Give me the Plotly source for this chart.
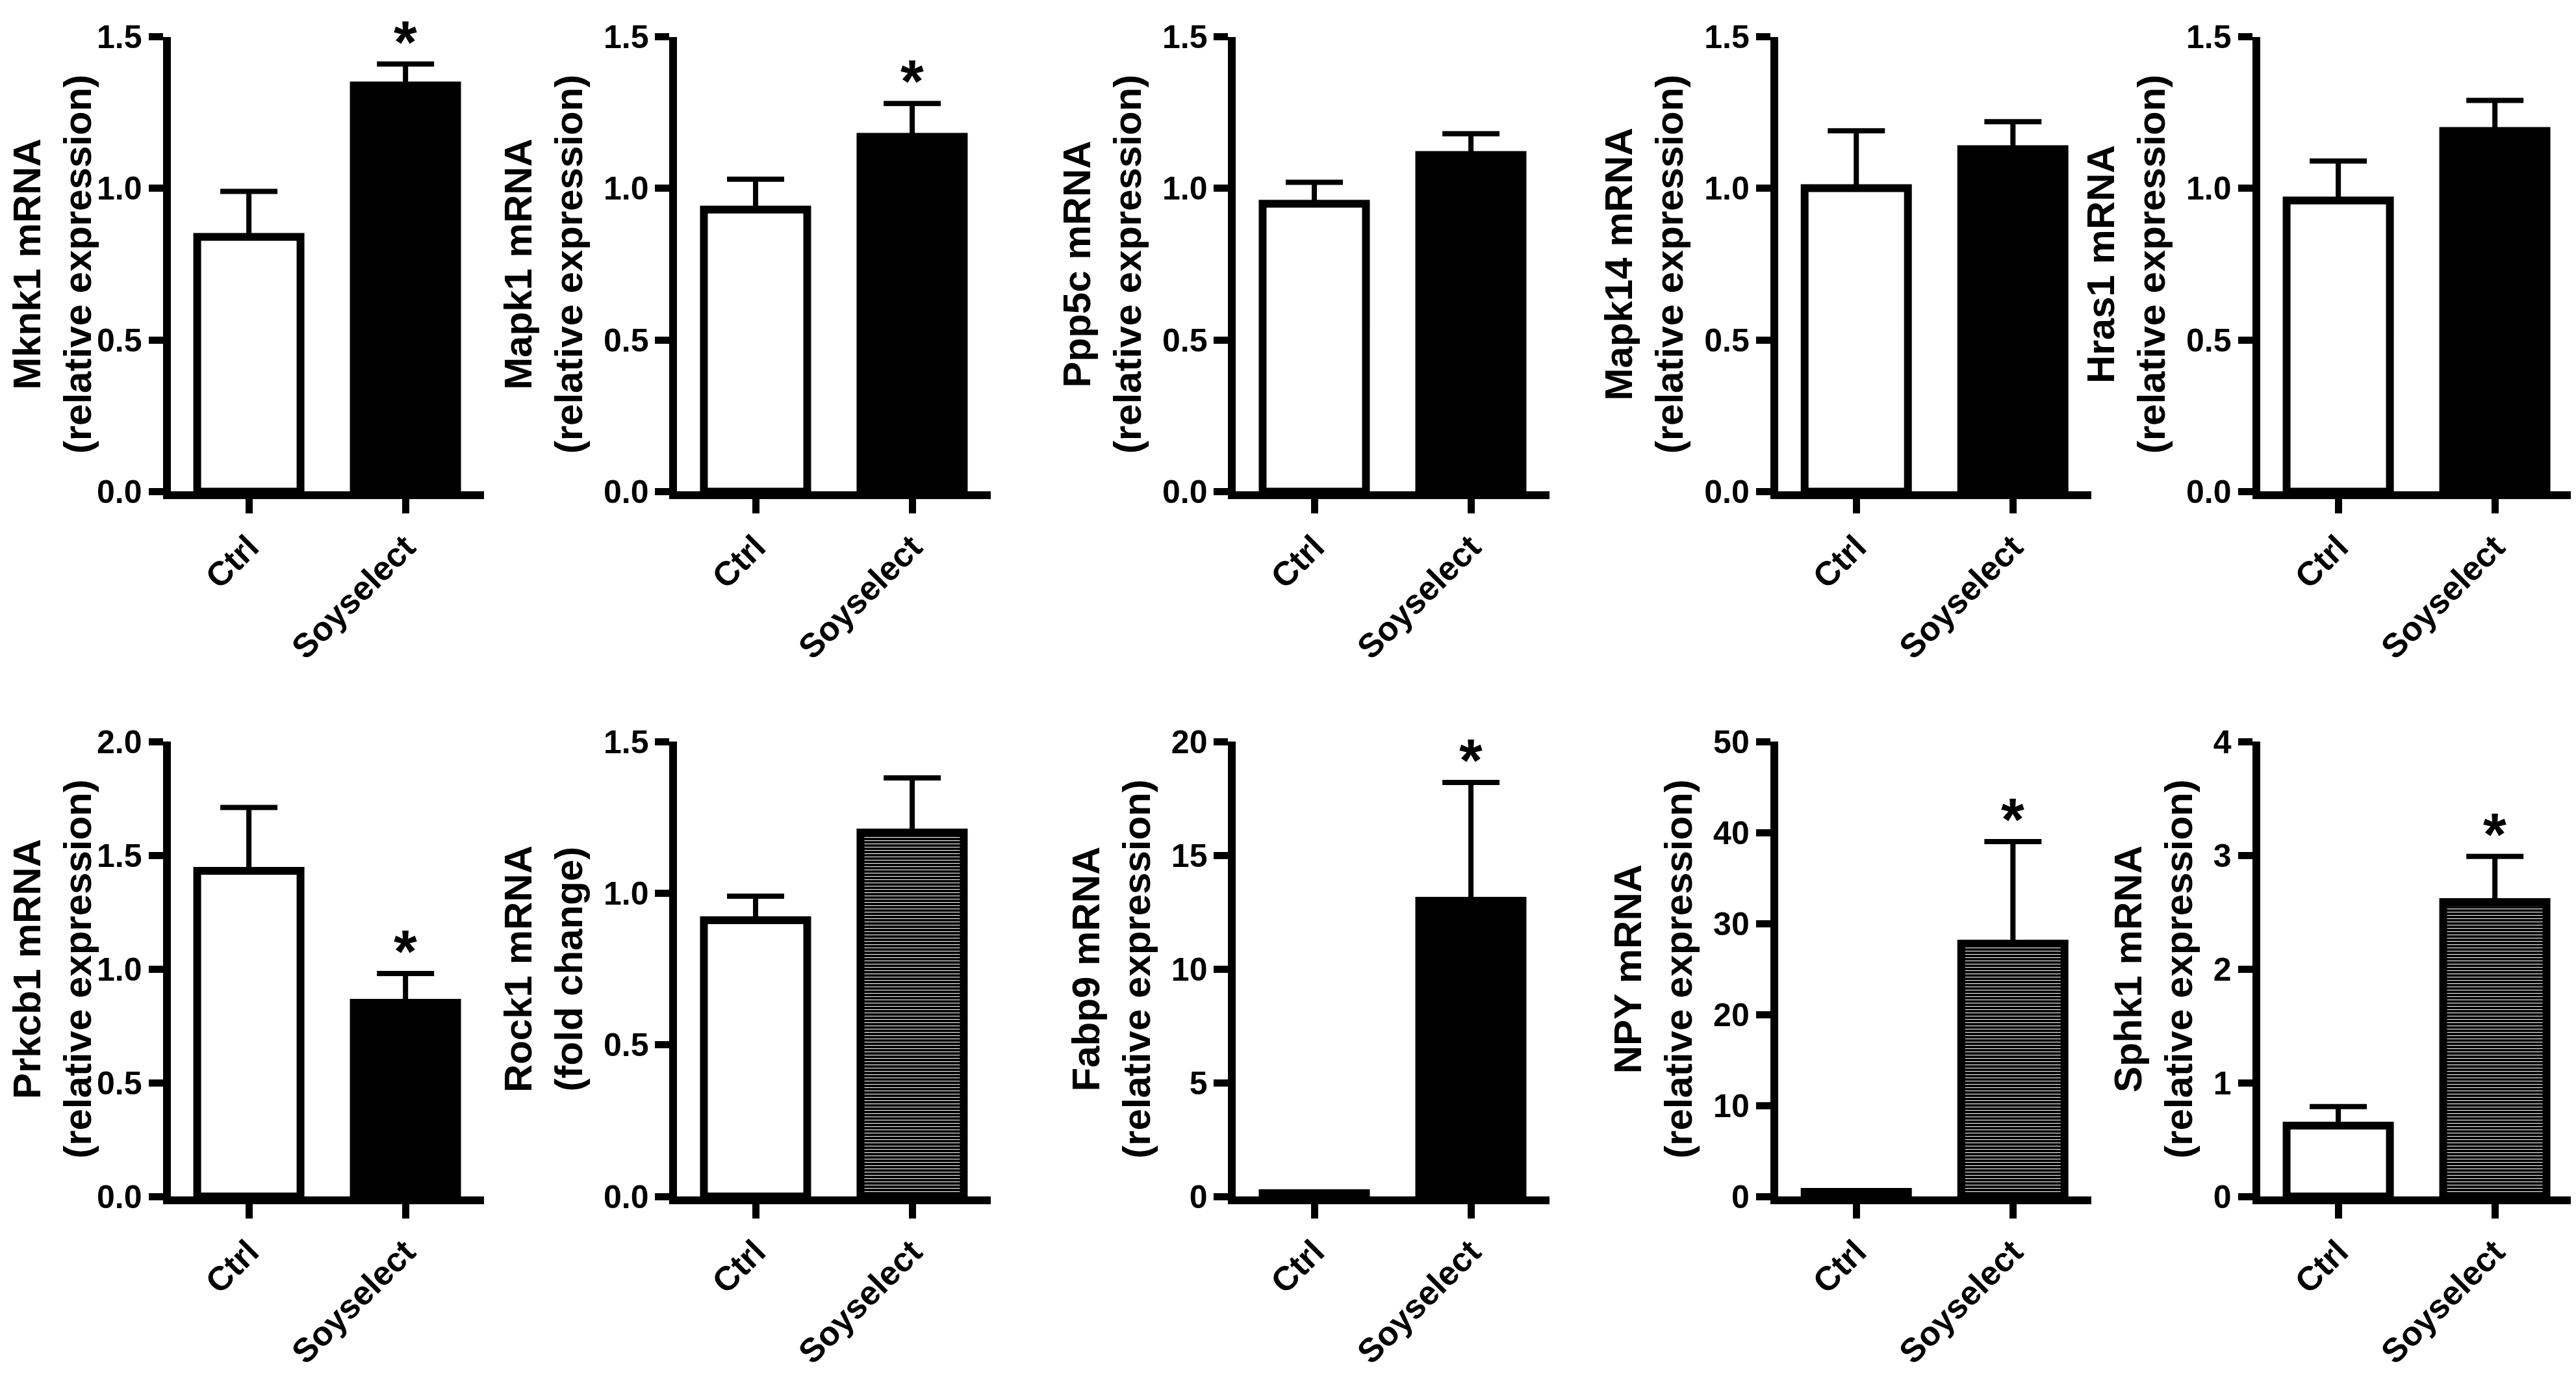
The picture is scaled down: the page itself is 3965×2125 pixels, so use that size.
import plotly.graph_objects as go

categories = ["Ctrl", "Soyselect"]
genes = ["Mknk1 mRNA", "Mapk1 mRNA", "Ppp5c mRNA", "Mapk14 mRNA", "Hras1 mRNA",
         "Prkcb1 mRNA", "Rock1 mRNA", "Fabp9 mRNA", "NPY mRNA", "Sphk1 mRNA"]
units = ["(relative expression)"] * 6 + ["(fold change)"] + ["(relative expression)"] * 3
ctrl_mean = [0.84, 0.93, 0.95, 1.00, 0.96, 1.43, 0.91, 0.15, 0.5, 0.62]
ctrl_err = [0.15, 0.10, 0.07, 0.19, 0.13, 0.28, 0.08, 0.0, 0.0, 0.17]
soy_mean = [1.34, 1.17, 1.11, 1.13, 1.19, 0.85, 1.20, 13.0, 27.8, 2.59]
soy_err = [0.07, 0.11, 0.07, 0.09, 0.10, 0.13, 0.18, 5.2, 11.2, 0.40]
significant = [True, True, False, False, False, True, False, True, True, True]
soy_hatched = [False, False, False, False, False, False, True, False, True, True]
y_max = [1.5, 1.5, 1.5, 1.5, 1.5, 2.0, 1.5, 20, 50, 4]
y_dtick = [0.5, 0.5, 0.5, 0.5, 0.5, 0.5, 0.5, 5, 10, 1]
y_format = [".1f"] * 7 + ["d"] * 3

FONT = "Liberation Sans"
LW = 12
fig = go.Figure()

col_left = [0.0642, 0.2609, 0.4778, 0.6882, 0.8753]
W = 0.1216
row_dom = [[0.6513, 0.9896], [0.1271, 0.4654]]

layout = {}
annotations = []
for i in range(10):
    n = i + 1
    r, c = divmod(i, 5)
    xs = "x" if n == 1 else f"x{n}"
    ys = "y" if n == 1 else f"y{n}"
    fig.add_trace(go.Bar(
        x=[categories[0]], y=[ctrl_mean[i]], xaxis=xs, yaxis=ys, width=0.66,
        marker=dict(color="white", line=dict(color="black", width=LW)),
        error_y=dict(type="data", symmetric=False, array=[ctrl_err[i]], arrayminus=[0],
                     color="black", thickness=8, width=44, visible=ctrl_err[i] > 0),
        showlegend=False, hoverinfo="skip"))
    if soy_hatched[i]:
        mk = dict(color="black", line=dict(color="black", width=LW),
                  pattern=dict(shape="-", fgcolor="white", bgcolor="black", size=5,
                               solidity=0.22, fillmode="replace"))
    else:
        mk = dict(color="black", line=dict(color="black", width=LW))
    fig.add_trace(go.Bar(
        x=[categories[1]], y=[soy_mean[i]], xaxis=xs, yaxis=ys, width=0.66,
        marker=mk,
        error_y=dict(type="data", symmetric=False, array=[soy_err[i]], arrayminus=[0],
                     color="black", thickness=8, width=44),
        showlegend=False, hoverinfo="skip"))
    x0 = col_left[c]
    layout[f"xaxis{'' if n == 1 else n}"] = dict(
        domain=[x0, min(1.0, x0 + W)], anchor=ys, type="category",
        categoryorder="array", categoryarray=categories, range=[-0.5, 1.5],
        showline=True, linecolor="black", linewidth=LW, ticks="outside",
        ticklen=22, tickwidth=11, tickcolor="black", tickangle=-45,
        tickfont=dict(family=FONT, size=52, color="black", weight="bold"),
        showgrid=False, zeroline=False, fixedrange=True)
    layout[f"yaxis{'' if n == 1 else n}"] = dict(
        domain=row_dom[r], anchor=xs, range=[0, y_max[i]], dtick=y_dtick[i], tick0=0,
        tickformat=y_format[i],
        showline=True, linecolor="black", linewidth=LW, ticks="outside",
        ticklen=22, tickwidth=11, tickcolor="black",
        tickfont=dict(family=FONT, size=50, color="black", weight="bold"),
        title=dict(text=f"{genes[i]}<br>{units[i]}", standoff=18,
                   font=dict(family=FONT, size=60, color="black", weight="bold")),
        showgrid=False, zeroline=False, fixedrange=True)
    if significant[i]:
        annotations.append(dict(
            xref=xs, yref=ys, x=categories[1], y=soy_mean[i] + soy_err[i],
            text="*", showarrow=False, yanchor="middle", yshift=34,
            font=dict(family=FONT, size=92, color="black", weight="bold")))

fig.update_layout(
    width=3965, height=2125,
    margin=dict(l=0, r=0, t=0, b=0),
    paper_bgcolor="white", plot_bgcolor="white",
    barmode="overlay", bargap=0,
    annotations=annotations,
    font=dict(family=FONT, color="black"),
    **layout)

fig.write_html("out.html")
